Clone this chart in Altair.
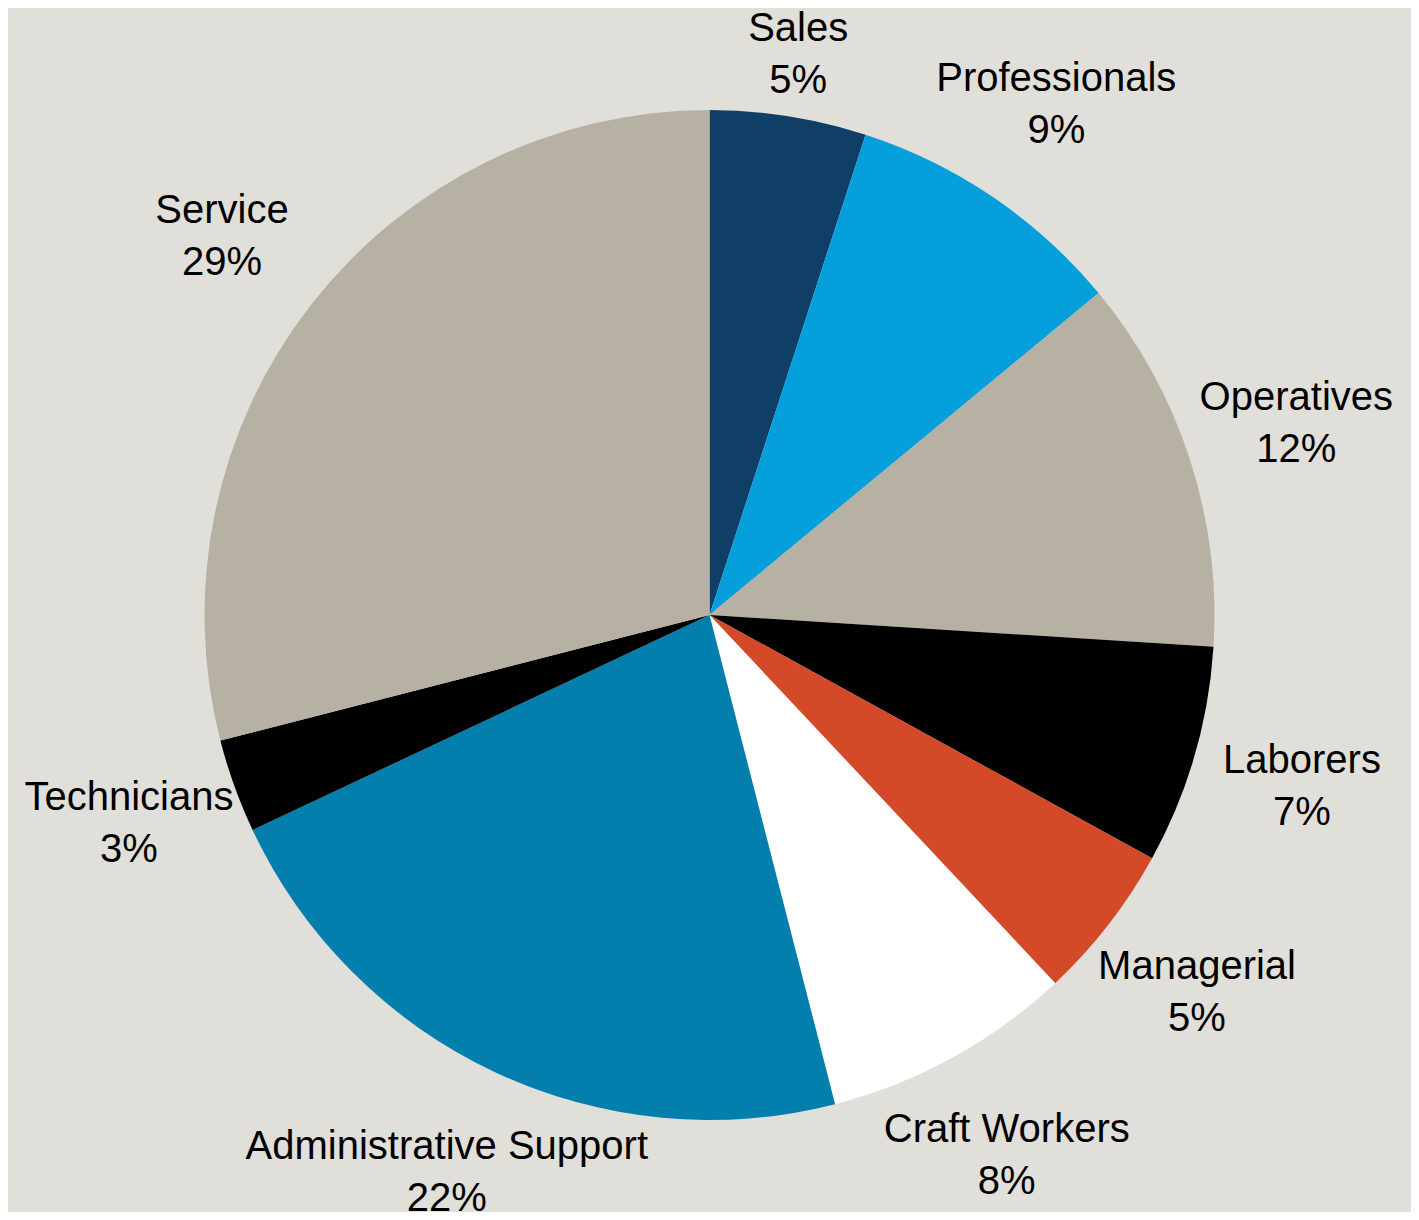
import altair as alt
import pandas as pd

categories = ["Sales", "Professionals", "Operatives", "Laborers", "Managerial",
              "Craft Workers", "Administrative Support", "Technicians", "Service"]
values = [5, 9, 12, 7, 5, 8, 22, 3, 29]
colors = ["#0f3f66", "#05a0db", "#b7b1a3", "#000000", "#d44a28",
          "#ffffff", "#037fae", "#000000", "#b7b1a3"]

df = pd.DataFrame({
    "cat": categories,
    "v": values,
    "idx": list(range(len(categories))),
    "label": [f"{c}\n{v}%" for c, v in zip(categories, values)],
})

base = alt.Chart(df)

theta = alt.Theta("v:Q", stack=True)
order = alt.Order("idx:Q")

arcs = base.mark_arc(outerRadius=505, stroke=None).encode(
    theta=theta,
    order=order,
    color=alt.Color("cat:N", scale=alt.Scale(domain=categories, range=colors), legend=None),
)

text_style = dict(fontSize=40, lineBreak="\n", lineHeight=52, font="Liberation Sans",
                  color="#000000", align="center", baseline="middle", dy=-26)

labels = base.mark_text(radius=617, **text_style).encode(
    theta=theta,
    order=order,
    text=alt.condition(alt.datum.cat != "Sales", alt.Text("label:N"), alt.value("")),
)

labels_sales = base.mark_text(radius=567, **text_style).encode(
    theta=theta,
    order=order,
    text=alt.condition(alt.datum.cat == "Sales", alt.Text("label:N"), alt.value("")),
)

chart = alt.layer(arcs, labels, labels_sales).properties(
    width=1403,
    height=1194,
    padding={"top": 10, "bottom": 0, "left": 0, "right": 0},
    background="#e1dfda",
    autosize=alt.AutoSizeParams(type="none"),
).configure_view(stroke=None)

chart.save("out.html", embed_options={"renderer": "svg", "actions": False})
